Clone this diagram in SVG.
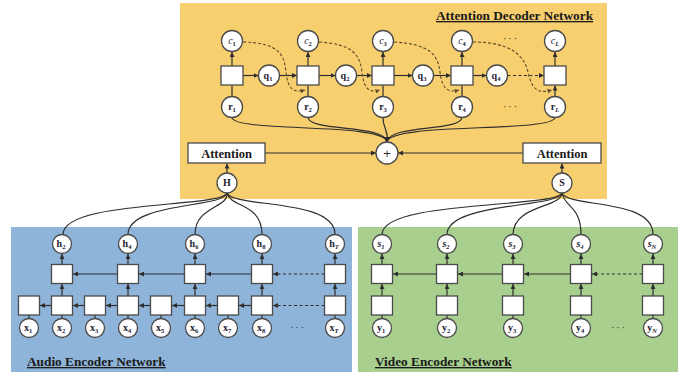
<svg xmlns="http://www.w3.org/2000/svg" width="683" height="374" viewBox="0 0 683 374">
<defs>
<marker id="a" viewBox="0 0 6 6" refX="6" refY="3" markerWidth="5" markerHeight="5" orient="auto" markerUnits="userSpaceOnUse"><path d="M0,0 L6,3 L0,6 z" fill="#2e2e2e"/></marker>
<marker id="ad" viewBox="0 0 6 6" refX="6" refY="3" markerWidth="4.5" markerHeight="4.5" orient="auto" markerUnits="userSpaceOnUse"><path d="M0,0 L6,3 L0,6 z" fill="#5a4a2a"/></marker>
</defs>
<style>
.n{fill:#fff;stroke:#4a4a4a;stroke-width:1.3}
.l{font-family:"Liberation Serif","Times New Roman",serif;font-weight:bold;font-size:10px;text-anchor:middle;fill:#1e2233}
.i{font-style:italic}
.s{font-size:6.5px}
.t{font-family:"Liberation Serif","Times New Roman",serif;font-weight:bold;font-size:13.3px;fill:#1a1a1a;text-decoration:underline}
.att{font-family:"Liberation Serif","Times New Roman",serif;font-weight:bold;font-size:12.5px;text-anchor:middle;fill:#1a1a1a}
.e{fill:none;stroke:#2e2e2e;stroke-width:1.2}
.ea{fill:none;stroke:#2e2e2e;stroke-width:1.2;marker-end:url(#a)}
.dd{fill:none;stroke:#2e2e2e;stroke-width:1.2;stroke-dasharray:3 2.5;marker-end:url(#a)}
.dc{fill:none;stroke:#5a4a2a;stroke-width:1.1;stroke-dasharray:3 2;marker-end:url(#ad)}
.dots{font-family:"Liberation Sans",Arial,sans-serif;font-size:10px;text-anchor:middle;fill:#333;letter-spacing:2px}
</style>

<!-- panels -->
<rect x="180" y="3" width="427" height="196" fill="#F8CF6F"/>
<rect x="11" y="227" width="341" height="145" fill="#8FB4DA"/>
<rect x="358" y="227" width="320" height="145" fill="#A9CF8E"/>

<text class="t" x="436" y="20">Attention Decoder Network</text>
<text class="t" x="27" y="366">Audio Encoder Network</text>
<text class="t" x="375" y="366">Video Encoder Network</text>

<!-- connectors -->
<g id="connectors">
  <!-- decoder vertical -->
  <path class="ea" d="M232,96.5 V85.5 M308,96.5 V85.5 M383,96.5 V85.5 M462,96.5 V85.5 M555,96.5 V85.5"/>
  <path class="ea" d="M232,66 V52"/>
  <path class="ea" d="M308,66 V52"/>
  <path class="ea" d="M383,66 V52"/>
  <path class="ea" d="M462,66 V52"/>
  <path class="ea" d="M555,66 V52"/>
  <!-- decoder horizontal -->
  <path class="ea" d="M243,75.5 H258.5"/>
  <path class="ea" d="M279.5,75.5 H297"/>
  <path class="ea" d="M319,75.5 H335.5"/>
  <path class="ea" d="M356.5,75.5 H372"/>
  <path class="ea" d="M394,75.5 H412.5"/>
  <path class="ea" d="M433.5,75.5 H451"/>
  <path class="ea" d="M473,75.5 H486.5"/>
  <path class="dd" d="M507.5,75.5 H544"/>
  <!-- decoder dashed recurrences -->
  <path class="dc" d="M243,42 C280,43 284,55 286,72 C288,90 294,93 305,90"/>
  <path class="dc" d="M319,42 C353,44 360,55 362,72 C364,90 370,93 380,90"/>
  <path class="dc" d="M394,42 C430,44 438,55 440,72 C442,90 449,93 459,90"/>
  <path class="dc" d="M473,42 C510,42 524,55 528,72 C532,90 538,94 552,90"/>
  <!-- r to + -->
  <path class="ea" d="M232,117.5 C234,133 385,122 387,142"/>
  <path class="ea" d="M308,117.5 C310,132 385,124 387,142"/>
  <path class="ea" d="M383,117.5 C383,130 389,130 387,142"/>
  <path class="ea" d="M462,117.5 C460,132 389,124 387,142"/>
  <path class="ea" d="M555,117.5 C553,133 389,122 387,142"/>
  <!-- attention to + -->
  <path class="ea" d="M265,153 H376"/>
  <path class="ea" d="M523,153 H398"/>
  <!-- H, S to attention -->
  <path class="ea" d="M227,173 V163.5"/>
  <path class="ea" d="M562,173 V163.5"/>
  <!-- H fan-out -->
  <path class="e" d="M227,193 C222,208 63,200 63,234.5"/>
  <path class="e" d="M227,193 C225,208 128,202 128,234.5"/>
  <path class="e" d="M227,193 C229,208 195,206 195,234.5"/>
  <path class="e" d="M227,193 C231,208 262,203 262,234.5"/>
  <path class="e" d="M227,193 C233,208 335,198 335,234.5"/>
  <!-- S fan-out -->
  <path class="e" d="M562,193 C557,208 382,200 382,234.5"/>
  <path class="e" d="M562,193 C559,208 447,202 447,234.5"/>
  <path class="e" d="M562,193 C561,208 513,205 513,234.5"/>
  <path class="e" d="M562,193 C565,208 581,206 581,234.5"/>
  <path class="e" d="M562,193 C568,208 653,198 653,234.5"/>
  <!-- audio vertical -->
  <path class="e" d="M29,318.5 V315 M62,318.5 V315 M95,318.5 V315 M128,318.5 V315 M161,318.5 V315 M195,318.5 V315 M228,318.5 V315 M262,318.5 V315 M335,318.5 V315"/>
  <path class="ea" d="M62,296 V284"/>
  <path class="ea" d="M128,296 V284"/>
  <path class="ea" d="M195,296 V284"/>
  <path class="ea" d="M262,296 V284"/>
  <path class="ea" d="M335,296 V284"/>
  <path class="ea" d="M62,264.5 V254"/>
  <path class="ea" d="M128,264.5 V254"/>
  <path class="ea" d="M195,264.5 V254"/>
  <path class="ea" d="M262,264.5 V254"/>
  <path class="ea" d="M335,264.5 V254"/>
  <!-- audio upper row -->
  <path class="ea" d="M117.5,274 H73"/>
  <path class="ea" d="M184.5,274 H139"/>
  <path class="ea" d="M251.5,274 H206"/>
  <path class="dd" d="M324.5,274 H273"/>
  <!-- audio lower row -->
  <path class="ea" d="M51.5,305.5 H40"/>
  <path class="ea" d="M84.5,305.5 H73"/>
  <path class="ea" d="M117.5,305.5 H106"/>
  <path class="ea" d="M150.5,305.5 H139"/>
  <path class="ea" d="M184.5,305.5 H172"/>
  <path class="ea" d="M217.5,305.5 H206"/>
  <path class="ea" d="M251.5,305.5 H239"/>
  <path class="dd" d="M324.5,305.5 H273"/>
  <!-- video vertical -->
  <path class="e" d="M382,318.5 V315 M447,318.5 V315 M513,318.5 V315 M581,318.5 V315 M653,318.5 V315"/>
  <path class="ea" d="M382,296 V284"/>
  <path class="ea" d="M447,296 V284"/>
  <path class="ea" d="M513,296 V284"/>
  <path class="ea" d="M581,296 V284"/>
  <path class="ea" d="M653,296 V284"/>
  <path class="ea" d="M382,264.5 V254"/>
  <path class="ea" d="M447,264.5 V254"/>
  <path class="ea" d="M513,264.5 V254"/>
  <path class="ea" d="M581,264.5 V254"/>
  <path class="ea" d="M653,264.5 V254"/>
  <!-- video upper row -->
  <path class="ea" d="M436.5,274 H393"/>
  <path class="ea" d="M502.5,274 H458"/>
  <path class="ea" d="M570.5,274 H524"/>
  <path class="dd" d="M642.5,274 H592"/>
</g>

<!-- decoder nodes -->
<g id="c1"><circle class="n" cx="232" cy="41" r="10.5"/><text class="l" x="232" y="44"><tspan class="i" font-weight="normal">c</tspan><tspan class="s" dy="2">1</tspan></text></g>
<g id="c2"><circle class="n" cx="308" cy="41" r="10.5"/><text class="l" x="308" y="44"><tspan class="i" font-weight="normal">c</tspan><tspan class="s" dy="2">2</tspan></text></g>
<g id="c3"><circle class="n" cx="383" cy="41" r="10.5"/><text class="l" x="383" y="44"><tspan class="i" font-weight="normal">c</tspan><tspan class="s" dy="2">3</tspan></text></g>
<g id="c4"><circle class="n" cx="462" cy="41" r="10.5"/><text class="l" x="462" y="44"><tspan class="i" font-weight="normal">c</tspan><tspan class="s" dy="2">4</tspan></text></g>
<g id="cL"><circle class="n" cx="555" cy="41" r="10.5"/><text class="l" x="555" y="44"><tspan class="i" font-weight="normal">c</tspan><tspan class="s i" dy="2">L</tspan></text></g>

<g id="d1"><rect class="n" x="221" y="66" width="22" height="19"/></g>
<g id="d2"><rect class="n" x="297" y="66" width="22" height="19"/></g>
<g id="d3"><rect class="n" x="372" y="66" width="22" height="19"/></g>
<g id="d4"><rect class="n" x="451" y="66" width="22" height="19"/></g>
<g id="dL"><rect class="n" x="544" y="66" width="22" height="19"/></g>

<g id="q1"><circle class="n" cx="269" cy="75.5" r="10.5"/><text class="l" x="268" y="78.5">q<tspan class="s" dy="2">1</tspan></text></g>
<g id="q2"><circle class="n" cx="346" cy="75.5" r="10.5"/><text class="l" x="345" y="78.5">q<tspan class="s" dy="2">2</tspan></text></g>
<g id="q3"><circle class="n" cx="423" cy="75.5" r="10.5"/><text class="l" x="422" y="78.5">q<tspan class="s" dy="2">3</tspan></text></g>
<g id="q4"><circle class="n" cx="497" cy="75.5" r="10.5"/><text class="l" x="496" y="78.5">q<tspan class="s" dy="2">4</tspan></text></g>

<g id="r1"><circle class="n" cx="232" cy="107" r="10.5"/><text class="l" x="232" y="110">r<tspan class="s" dy="2">1</tspan></text></g>
<g id="r2"><circle class="n" cx="308" cy="107" r="10.5"/><text class="l" x="308" y="110">r<tspan class="s" dy="2">2</tspan></text></g>
<g id="r3"><circle class="n" cx="383" cy="107" r="10.5"/><text class="l" x="383" y="110">r<tspan class="s" dy="2">3</tspan></text></g>
<g id="r4"><circle class="n" cx="462" cy="107" r="10.5"/><text class="l" x="462" y="110">r<tspan class="s" dy="2">4</tspan></text></g>
<g id="rL"><circle class="n" cx="555" cy="107" r="10.5"/><text class="l" x="555" y="110">r<tspan class="s i" dy="2">L</tspan></text></g>

<text class="dots" x="511" y="42">···</text>
<text class="dots" x="511" y="110">···</text>

<g id="plus"><circle class="n" cx="387" cy="153" r="11"/><text x="387" y="157.5" font-family="Liberation Sans, Arial, sans-serif" font-size="13" text-anchor="middle" fill="#333">+</text></g>
<g id="attA"><rect class="n" x="188" y="143" width="77" height="20"/><text class="att" x="226.5" y="157.5">Attention</text></g>
<g id="attV"><rect class="n" x="523" y="143" width="78" height="20"/><text class="att" x="562" y="157.5">Attention</text></g>
<g id="H"><circle class="n" cx="227" cy="183" r="10"/><text class="l" x="227" y="186" font-size="9">H</text></g>
<g id="S"><circle class="n" cx="562" cy="183" r="10"/><text class="l" x="562" y="186" font-size="9">S</text></g>

<!-- audio encoder nodes -->
<g id="h2"><circle class="n" cx="62" cy="244" r="9.5"/><text class="l" x="61" y="247">h<tspan class="s" dy="2">2</tspan></text></g>
<g id="h4"><circle class="n" cx="128" cy="244" r="9.5"/><text class="l" x="127" y="247">h<tspan class="s" dy="2">4</tspan></text></g>
<g id="h6"><circle class="n" cx="195" cy="244" r="9.5"/><text class="l" x="194" y="247">h<tspan class="s" dy="2">6</tspan></text></g>
<g id="h8"><circle class="n" cx="262" cy="244" r="9.5"/><text class="l" x="261" y="247">h<tspan class="s" dy="2">8</tspan></text></g>
<g id="hT"><circle class="n" cx="335" cy="244" r="9.5"/><text class="l" x="334" y="247">h<tspan class="s i" dy="2">T</tspan></text></g>

<g id="au2"><rect class="n" x="51.5" y="264.5" width="21" height="19"/></g>
<g id="au4"><rect class="n" x="117.5" y="264.5" width="21" height="19"/></g>
<g id="au6"><rect class="n" x="184.5" y="264.5" width="21" height="19"/></g>
<g id="au8"><rect class="n" x="251.5" y="264.5" width="21" height="19"/></g>
<g id="auT"><rect class="n" x="324.5" y="264.5" width="21" height="19"/></g>

<g id="al1"><rect class="n" x="18.5" y="296" width="21" height="19"/></g>
<g id="al2"><rect class="n" x="51.5" y="296" width="21" height="19"/></g>
<g id="al3"><rect class="n" x="84.5" y="296" width="21" height="19"/></g>
<g id="al4"><rect class="n" x="117.5" y="296" width="21" height="19"/></g>
<g id="al5"><rect class="n" x="150.5" y="296" width="21" height="19"/></g>
<g id="al6"><rect class="n" x="184.5" y="296" width="21" height="19"/></g>
<g id="al7"><rect class="n" x="217.5" y="296" width="21" height="19"/></g>
<g id="al8"><rect class="n" x="251.5" y="296" width="21" height="19"/></g>
<g id="alT"><rect class="n" x="324.5" y="296" width="21" height="19"/></g>

<g id="x1"><circle class="n" cx="29" cy="328" r="9.5"/><text class="l" x="28" y="331">x<tspan class="s" dy="2">1</tspan></text></g>
<g id="x2"><circle class="n" cx="62" cy="328" r="9.5"/><text class="l" x="61" y="331">x<tspan class="s" dy="2">2</tspan></text></g>
<g id="x3"><circle class="n" cx="95" cy="328" r="9.5"/><text class="l" x="94" y="331">x<tspan class="s" dy="2">3</tspan></text></g>
<g id="x4"><circle class="n" cx="128" cy="328" r="9.5"/><text class="l" x="127" y="331">x<tspan class="s" dy="2">4</tspan></text></g>
<g id="x5"><circle class="n" cx="161" cy="328" r="9.5"/><text class="l" x="160" y="331">x<tspan class="s" dy="2">5</tspan></text></g>
<g id="x6"><circle class="n" cx="195" cy="328" r="9.5"/><text class="l" x="194" y="331">x<tspan class="s" dy="2">6</tspan></text></g>
<g id="x7"><circle class="n" cx="228" cy="328" r="9.5"/><text class="l" x="227" y="331">x<tspan class="s" dy="2">7</tspan></text></g>
<g id="x8"><circle class="n" cx="262" cy="328" r="9.5"/><text class="l" x="261" y="331">x<tspan class="s" dy="2">8</tspan></text></g>
<g id="xT"><circle class="n" cx="335" cy="328" r="9.5"/><text class="l" x="334" y="331">x<tspan class="s i" dy="2">T</tspan></text></g>
<text class="dots" x="298" y="331">···</text>

<!-- video encoder nodes -->
<g id="s1"><circle class="n" cx="382" cy="244" r="9.5"/><text class="l i" x="381" y="247">s<tspan class="s" dy="2">1</tspan></text></g>
<g id="s2"><circle class="n" cx="447" cy="244" r="9.5"/><text class="l i" x="446" y="247">s<tspan class="s" dy="2">2</tspan></text></g>
<g id="s3"><circle class="n" cx="513" cy="244" r="9.5"/><text class="l i" x="512" y="247">s<tspan class="s" dy="2">3</tspan></text></g>
<g id="s4"><circle class="n" cx="581" cy="244" r="9.5"/><text class="l i" x="580" y="247">s<tspan class="s" dy="2">4</tspan></text></g>
<g id="sN"><circle class="n" cx="653" cy="244" r="9.5"/><text class="l i" x="652" y="247">s<tspan class="s" dy="2">N</tspan></text></g>

<g id="vu1"><rect class="n" x="371.5" y="264.5" width="21" height="19"/></g>
<g id="vu2"><rect class="n" x="436.5" y="264.5" width="21" height="19"/></g>
<g id="vu3"><rect class="n" x="502.5" y="264.5" width="21" height="19"/></g>
<g id="vu4"><rect class="n" x="570.5" y="264.5" width="21" height="19"/></g>
<g id="vuN"><rect class="n" x="642.5" y="264.5" width="21" height="19"/></g>

<g id="vl1"><rect class="n" x="371.5" y="296" width="21" height="19"/></g>
<g id="vl2"><rect class="n" x="436.5" y="296" width="21" height="19"/></g>
<g id="vl3"><rect class="n" x="502.5" y="296" width="21" height="19"/></g>
<g id="vl4"><rect class="n" x="570.5" y="296" width="21" height="19"/></g>
<g id="vlN"><rect class="n" x="642.5" y="296" width="21" height="19"/></g>

<g id="y1"><circle class="n" cx="382" cy="328" r="9.5"/><text class="l" x="381" y="331">y<tspan class="s" dy="2">1</tspan></text></g>
<g id="y2"><circle class="n" cx="447" cy="328" r="9.5"/><text class="l" x="446" y="331">y<tspan class="s" dy="2">2</tspan></text></g>
<g id="y3"><circle class="n" cx="513" cy="328" r="9.5"/><text class="l" x="512" y="331">y<tspan class="s" dy="2">3</tspan></text></g>
<g id="y4"><circle class="n" cx="581" cy="328" r="9.5"/><text class="l" x="580" y="331">y<tspan class="s" dy="2">4</tspan></text></g>
<g id="yN"><circle class="n" cx="653" cy="328" r="9.5"/><text class="l" x="652" y="331">y<tspan class="s i" dy="2">N</tspan></text></g>
<text class="dots" x="619" y="331">···</text>
</svg>
